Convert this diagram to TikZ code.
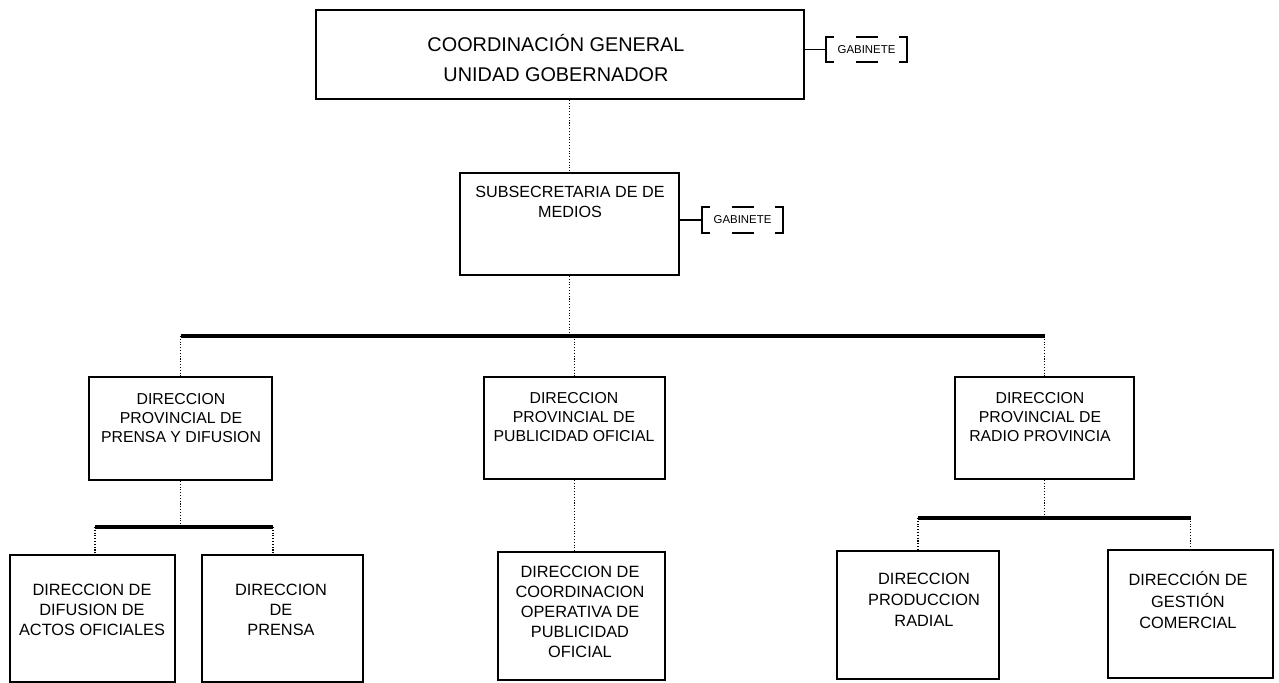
\documentclass[tikz,border=0pt]{standalone}
\usepackage{fontspec}
\setmainfont{Liberation Sans}
% marco punteado tipo corchete para "GABINETE"
\newcommand{\gabmarco}[1]{%
  \draw[gabline] ([xshift=0.16cm]#1.south west) -| (#1.north west) -- ++(0.16cm,0);
  \draw[gabline] ([xshift=-0.16cm]#1.south east) -| (#1.north east) -- ++(-0.16cm,0);
  \draw[gabline] ([xshift=-0.22cm]#1.north) -- ([xshift=0.22cm]#1.north);
  \draw[gabline] ([xshift=-0.22cm]#1.south) -- ([xshift=0.22cm]#1.south);
}
\begin{document}
\begin{tikzpicture}[x=0.02cm, y=-0.02cm,
    caja/.style={draw, line width=1.1pt, inner sep=0pt},
    texto/.style={align=center, inner sep=0pt, font=\fontsize{9}{10.6}\selectfont},
    texto2/.style={align=center, inner sep=0pt, font=\fontsize{9.3}{11.3}\selectfont},
    gab/.style={inner sep=0pt, minimum width=1.62cm, minimum height=0.5cm, font=\fontsize{6.5}{7}\selectfont},
    gabline/.style={line width=1pt},
    enlace/.style={line width=0.6pt, densely dotted},
    barra/.style={line width=2.3pt}]
  \useasboundingbox (0,0) rectangle (1279,683);
  % --- coordinacion general ---
  \node[caja, minimum width=9.76cm, minimum height=1.78cm] (coord) at (560,54.5) {};
  \node[texto, font=\fontsize{11.3}{17}\selectfont] (coordt) at (556,58) {COORDINACIÓN GENERAL\\UNIDAD GOBERNADOR};
  \node[gab] (gab1) at (866.5,49.5) {GABINETE};
  \gabmarco{gab1}
  \draw[gabline] (coord.east |- gab1.west) -- (gab1.west);
  % --- subsecretaria ---
  \node[caja, minimum width=4.38cm, minimum height=2.04cm] (sub) at (569.5,224) {};
  \node[texto, font=\fontsize{9.2}{11.5}\selectfont] (subt) at (570,202) {SUBSECRETARIA DE DE\\MEDIOS};
  \node[gab] (gab2) at (742.5,220) {GABINETE};
  \gabmarco{gab2}
  \draw[gabline] (sub.east |- gab2.west) -- (gab2.west);
  \draw[enlace] (coord.south -| sub.north) -- (sub.north);
  % --- direcciones provinciales ---
  \coordinate (barra1) at (569.5,336);
  \node[caja, minimum width=3.66cm, minimum height=2.06cm] (prensa) at (180.5,428.5) {};
  \node[texto] (prensat) at (181,418) {DIRECCION\\PROVINCIAL DE\\PRENSA Y DIFUSION};
  \node[caja, minimum width=3.62cm, minimum height=2.04cm] (publi) at (574.5,428) {};
  \node[texto] (publit) at (574,417) {DIRECCION\\PROVINCIAL DE\\PUBLICIDAD OFICIAL};
  \node[caja, minimum width=3.58cm, minimum height=2.04cm] (radio) at (1044.5,428) {};
  \node[texto] (radiot) at (1040,417) {DIRECCION\\PROVINCIAL DE\\RADIO PROVINCIA};
  \draw[enlace] (sub.south) -- (sub.south |- barra1);
  \draw[barra] (prensa.north |- barra1) -- (radio.north |- barra1);
  \draw[enlace] (prensa.north |- barra1) -- (prensa.north);
  \draw[enlace] (publi.north |- barra1) -- (publi.north);
  \draw[enlace] (radio.north |- barra1) -- (radio.north);
  % --- dependencias de prensa ---
  \coordinate (barra2a) at (95,527);
  \coordinate (barra2b) at (273,527);
  \node[caja, minimum width=3.30cm, minimum height=2.54cm] (actos) at (92.5,618.5) {};
  \node[texto2] (actost) at (92,610) {DIRECCION DE\\DIFUSION DE\\ACTOS OFICIALES};
  \node[caja, minimum width=3.22cm, minimum height=2.54cm] (dprensa) at (282.5,618.5) {};
  \node[texto2] (dprensat) at (281,610) {DIRECCION\\DE\\PRENSA};
  \draw[enlace] (prensa.south) -- (prensa.south |- barra2a);
  \draw[barra] (barra2a) -- (barra2b);
  \draw[enlace] (barra2a) -- (barra2a |- actos.north);
  \draw[enlace] (barra2b) -- (barra2b |- dprensa.north);
  % --- dependencia de publicidad ---
  \node[caja, minimum width=3.34cm, minimum height=2.56cm] (coop) at (581.5,616) {};
  \node[texto2] (coopt) at (580,612) {DIRECCION DE\\COORDINACION\\OPERATIVA DE\\PUBLICIDAD\\OFICIAL};
  \draw[enlace] (publi.south) -- (publi.south |- coop.north);
  % --- dependencias de radio ---
  \coordinate (barra3) at (1048,518);
  \node[caja, minimum width=3.24cm, minimum height=2.56cm] (prod) at (918,615) {};
  \node[texto2, font=\fontsize{9.3}{12}\selectfont] (prodt) at (924,600) {DIRECCION\\PRODUCCION\\RADIAL};
  \node[caja, minimum width=3.30cm, minimum height=2.56cm] (gestion) at (1190.5,614) {};
  \node[texto2, font=\fontsize{9.3}{12}\selectfont] (gestiont) at (1188,600) {DIRECCIÓN DE\\GESTIÓN\\COMERCIAL};
  \draw[enlace] (radio.south) -- (radio.south |- barra3);
  \draw[barra] (prod.north |- barra3) -- (gestion.north |- barra3);
  \draw[enlace] (prod.north |- barra3) -- (prod.north);
  \draw[enlace] (gestion.north |- barra3) -- (gestion.north);
\end{tikzpicture}
\end{document}
